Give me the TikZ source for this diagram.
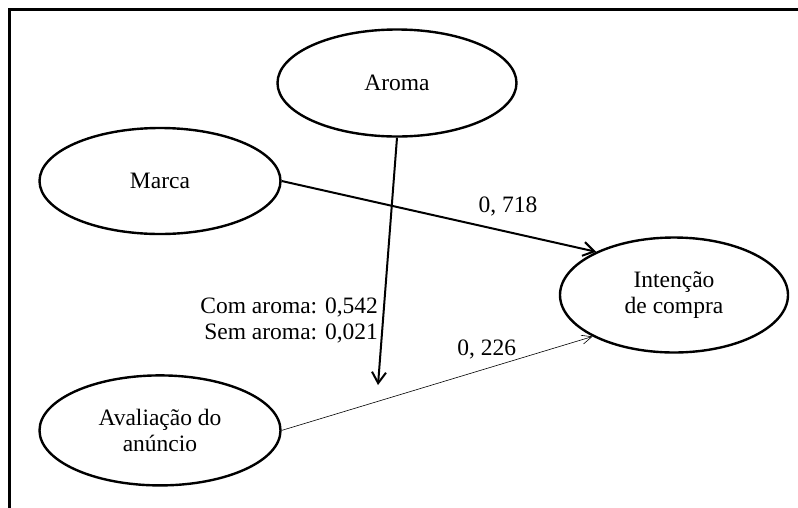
\documentclass[tikz,border=0pt]{standalone}
\usepackage{fontspec}
\setmainfont{Liberation Serif}
\usetikzlibrary{shapes.geometric, arrows.meta, positioning}

\begin{document}
\begin{tikzpicture}[
  x=1pt, y=-1pt,
  construct/.style={ellipse, draw, line width=2.4pt, inner sep=0pt, align=center, font=\fontsize{23.5}{26}\selectfont},
  strong/.style={-{Straight Barb[length=11pt, width=14pt]}, line width=2pt},
  weak/.style={-{Straight Barb[length=10pt, width=9pt]}, line width=0.6pt},
  coef/.style={font=\fontsize{23.5}{26}\selectfont, inner sep=2pt}
]
  \useasboundingbox (0,0) rectangle (798,507);
  \draw[line width=2.8pt] (9.5,520) -- (9.5,9.5) -- (810,9.5);

  \node[construct, minimum width=239pt, minimum height=107pt] (aroma) at (397,83) {Aroma};
  \node[construct, minimum width=241pt, minimum height=106pt] (marca) at (160,181) {Marca};
  \node[construct, minimum width=241pt, minimum height=110pt, below=139pt of marca] (avaliacao) {Avaliação do\\anúncio};
  \node[construct, minimum width=228pt, minimum height=115pt] (intencao) at (674,295) {Intenção\\de compra};
  \coordinate (moderacao) at (378,385);

  \draw[strong] (marca.east) -- node[coef, pos=0.72, above=13pt] (c718) {0, 718} (intencao.151);
  \draw[strong] (aroma.south) -- node[coef, pos=0.74, left=2pt, align=right] (caroma) {Com aroma: 0,542\\Sem aroma: 0,021} (moderacao);
  \draw[weak] (avaliacao.east) -- node[coef, pos=0.66, above=7pt] (c226) {0, 226} (intencao.207);
\end{tikzpicture}
\end{document}
